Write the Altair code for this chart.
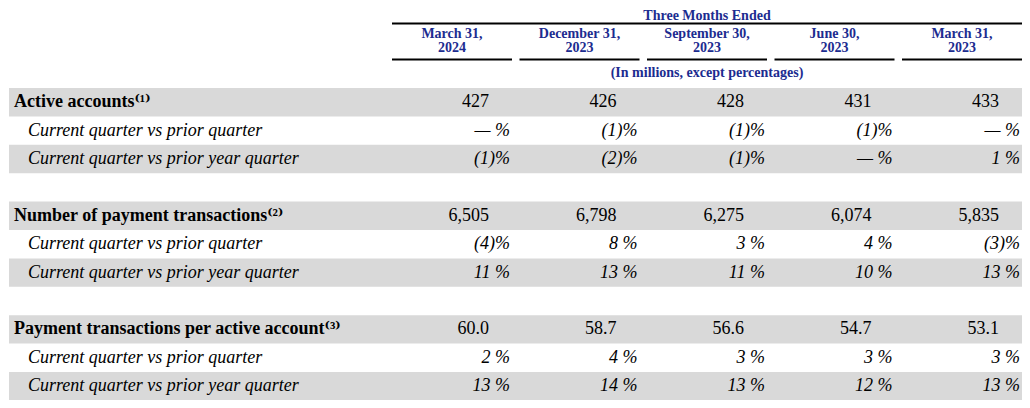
import altair as alt
import pandas as pd

# ---------------- data ----------------
periods = ["Mar 2024", "Dec 2023", "Sep 2023", "Jun 2023", "Mar 2023"]
header_line1 = ["March 31,", "December 31,", "September 30,", "June 30,", "March 31,"]
header_line2 = ["2024", "2023", "2023", "2023", "2023"]
span_title = "Three Months Ended"
units_note = "(In millions, except percentages)"

metric_labels = [
    "Active accounts\u207d\u00b9\u207e",
    "Number of payment transactions\u207d\u00b2\u207e",
    "Payment transactions per active account\u207d\u00b3\u207e",
]
sub_labels = ["Current quarter vs prior quarter", "Current quarter vs prior year quarter"]

active_accounts = [427, 426, 428, 431, 433]
active_qoq = [0, -1, -1, -1, 0]
active_yoy = [-1, -2, -1, 0, 1]

payment_txns = [6505, 6798, 6275, 6074, 5835]
txns_qoq = [-4, 8, 3, 4, -3]
txns_yoy = [11, 13, 11, 10, 13]

txns_per_account = [60.0, 58.7, 56.6, 54.7, 53.1]
per_qoq = [2, 4, 3, 3, 3]
per_yoy = [13, 14, 13, 12, 13]

# ---------------- helpers ----------------
def pct(v):
    if v < 0:
        return f"({-v})%"
    if v == 0:
        return "\u2014 %"
    return f"{v} %"

sections = [
    (active_accounts, "{:d}", active_qoq, active_yoy),
    (payment_txns, "{:,}", txns_qoq, txns_yoy),
    (txns_per_account, "{:.1f}", per_qoq, per_yoy),
]

cells = []
labels = []
for s, (vals, fmt, qoq, yoy) in enumerate(sections):
    base = 4 * s
    labels.append({"row": base, "label": metric_labels[s], "kind": "metric"})
    labels.append({"row": base + 1, "label": sub_labels[0], "kind": "sub"})
    labels.append({"row": base + 2, "label": sub_labels[1], "kind": "sub"})
    for i, p in enumerate(periods):
        cells.append({"row": base, "period": p, "text": fmt.format(vals[i]), "kind": "num"})
        cells.append({"row": base + 1, "period": p, "text": pct(qoq[i]), "kind": "pct"})
        cells.append({"row": base + 2, "period": p, "text": pct(yoy[i]), "kind": "pct"})

cells_df = pd.DataFrame(cells)
labels_df = pd.DataFrame(labels)
header_df = pd.DataFrame({"period": periods, "l1": header_line1, "l2": header_line2})
band_df = pd.DataFrame({"row": [0, 2, 4, 6, 8, 10]})
one_df = pd.DataFrame({"t": [span_title], "u": [units_note]})

# ---------------- scales ----------------
all_rows = list(range(11))
yscale = alt.Scale(type="band", domain=all_rows, range=[80, 392.4], paddingInner=0, paddingOuter=0)
xscale = alt.Scale(type="band", domain=periods, range=[384, 1014], paddingInner=0.0588, paddingOuter=0)

GRAY = "#d9d9d9"
NAVY = "#1c2c90"
FONT = "Liberation Serif"
LABEL_FONT = "'Liberation Serif', 'DejaVu Serif', serif"
BODY = 18
HEAD = 14

def Y():
    return alt.Y("row:O", scale=yscale, axis=None)

def X(pos=None):
    if pos is None:
        return alt.X("period:N", scale=xscale, axis=None)
    return alt.X("period:N", scale=xscale, axis=None, bandPosition=pos)

bands = alt.Chart(band_df).mark_rect(color=GRAY).encode(
    y=Y(), x=alt.value(1), x2=alt.value(1014)
)

top_rule = alt.Chart(one_df).mark_rule(color="black", strokeWidth=2).encode(
    x=alt.value(384), x2=alt.value(1014), y=alt.value(15.5)
)

underlines = alt.Chart(header_df).mark_rect(color="black").encode(
    x=X(), y=alt.value(50.5), y2=alt.value(52.5)
)

hdr1 = alt.Chart(header_df).mark_text(font=FONT, fontSize=HEAD, fontWeight="bold", color=NAVY).encode(
    x=X(), y=alt.value(26), text="l1:N"
)
hdr2 = alt.Chart(header_df).mark_text(font=FONT, fontSize=HEAD, fontWeight="bold", color=NAVY).encode(
    x=X(), y=alt.value(39.5), text="l2:N"
)
title_txt = alt.Chart(one_df).mark_text(font=FONT, fontSize=HEAD, fontWeight="bold", color=NAVY, baseline="top").encode(
    x=alt.value(699), y=alt.value(0.5), text="t:N"
)
units_txt = alt.Chart(one_df).mark_text(font=FONT, fontSize=HEAD, fontWeight="bold", color=NAVY).encode(
    x=alt.value(699), y=alt.value(65), text="u:N"
)

metric_lbl = alt.Chart(labels_df).transform_filter(alt.datum.kind == "metric").mark_text(
    font=LABEL_FONT, fontSize=BODY, fontWeight="bold", align="left", color="black"
).encode(y=Y(), x=alt.value(6), text="label:N")

sub_lbl = alt.Chart(labels_df).transform_filter(alt.datum.kind == "sub").mark_text(
    font=FONT, fontSize=BODY, fontStyle="italic", align="left", color="black"
).encode(y=Y(), x=alt.value(20), text="label:N")

num_txt = alt.Chart(cells_df).transform_filter(alt.datum.kind == "num").mark_text(
    font=FONT, fontSize=BODY, align="right", dx=-23, color="black"
).encode(y=Y(), x=X(1), text="text:N")

pct_txt = alt.Chart(cells_df).transform_filter(alt.datum.kind == "pct").mark_text(
    font=FONT, fontSize=BODY, fontStyle="italic", align="right", dx=-2, color="black"
).encode(y=Y(), x=X(1), text="text:N")

chart = alt.layer(
    bands, top_rule, underlines, hdr1, hdr2, title_txt, units_txt,
    metric_lbl, sub_lbl, num_txt, pct_txt
).properties(
    width=1014, height=392, padding=0,
    autosize=alt.AutoSizeParams(type="none"),
    background="white",
).configure_view(stroke=None)

chart.save("out.html", embed_options={"renderer": "svg", "actions": False})
